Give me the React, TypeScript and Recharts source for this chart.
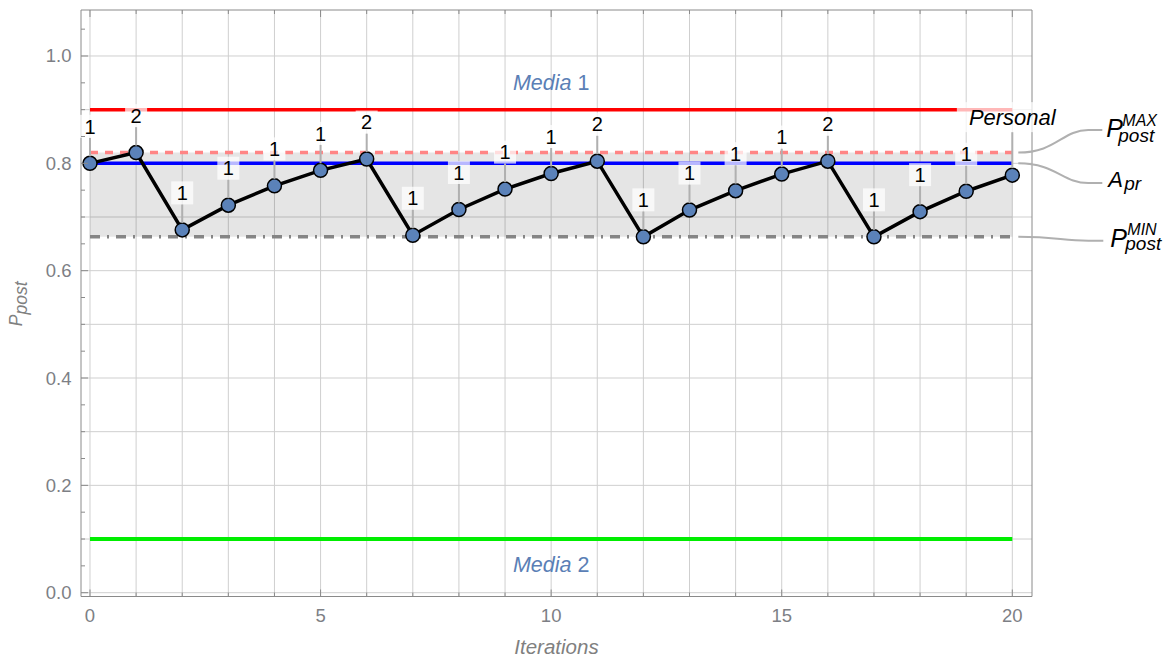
import React from 'react';
import {
  ComposedChart,
  Line,
  XAxis,
  YAxis,
  CartesianGrid,
  ReferenceLine,
  ReferenceArea,
  ReferenceDot,
} from 'recharts';

// ---------- data ----------
const iterations = [0, 1, 2, 3, 4, 5, 6, 7, 8, 9, 10, 11, 12, 13, 14, 15, 16, 17, 18, 19, 20];
const pPost = [
  0.8, 0.82, 0.676, 0.722, 0.758, 0.787, 0.808, 0.666, 0.714, 0.752, 0.781,
  0.804, 0.663, 0.713, 0.749, 0.78, 0.804, 0.663, 0.71, 0.748, 0.778,
];
const calloutLabels = [
  '1', '2', '1', '1', '1', '1', '2', '1', '1', '1', '1',
  '2', '1', '1', '1', '1', '2', '1', '1', '1', 'Personal',
];
const media1Value = 0.9;
const media2Value = 0.1;
const aPrValue = 0.8;
const pPostMaxValue = 0.82;
const pPostMinValue = 0.663;
const lineStart = 0;
const lineEnd = 20;

const xTicks = [0, 1, 2, 3, 4, 5, 6, 7, 8, 9, 10, 11, 12, 13, 14, 15, 16, 17, 18, 19, 20];
const xLabelTicks = [0, 5, 10, 15, 20];
const yTicks = [
  0, 0.05, 0.1, 0.15, 0.2, 0.25, 0.3, 0.35, 0.4, 0.45, 0.5,
  0.55, 0.6, 0.65, 0.7, 0.75, 0.8, 0.85, 0.9, 0.95, 1.0, 1.05,
];
const yLabelTicks = [0, 0.2, 0.4, 0.6, 0.8, 1.0];
const xGrid = [0, 1, 2, 3, 4, 5, 6, 7, 8, 9, 10, 11, 12, 13, 14, 15, 16, 17, 18, 19, 20];
const yGrid = [0, 0.1, 0.2, 0.3, 0.4, 0.5, 0.6, 0.7, 0.8, 0.9, 1.0];
const xDomain = [-0.195, 20.427];
const yDomain = [-0.0071, 1.0857];

const data = iterations.map((x, i) => ({ x, p: pPost[i], label: calloutLabels[i] }));

// ---------- styles ----------
const FONT = '"Liberation Sans", Arial, sans-serif';
const FRAME = '#8a8a8a';
const TICK_TEXT = '#7d7f85';
const MEDIA_TEXT = '#5b7fb6';
const LEADER = '#b0b0b0';

const BottomTick = (props: any) => {
  const { x, y, payload } = props;
  const v = payload.value;
  const major = xLabelTicks.includes(v);
  return (
    <g>
      <line x1={x} x2={x} y1={y} y2={y - (major ? 7 : 4)} stroke={FRAME} strokeWidth={1} />
      {major && (
        <text x={x} y={y + 25.5} textAnchor="middle" fill={TICK_TEXT} fontSize={18.5} fontFamily={FONT}>
          {v}
        </text>
      )}
    </g>
  );
};

const TopTick = (props: any) => {
  const { x, y, payload } = props;
  const major = xLabelTicks.includes(payload.value);
  return <line x1={x} x2={x} y1={y} y2={y + (major ? 7 : 4)} stroke={FRAME} strokeWidth={1} />;
};

const LeftTick = (props: any) => {
  const { x, y, payload } = props;
  const v = payload.value;
  const major = yLabelTicks.includes(v);
  return (
    <g>
      <line x1={x} x2={x + (major ? 7 : 4)} y1={y} y2={y} stroke={FRAME} strokeWidth={1} />
      {major && (
        <text x={x - 9.5} y={y + 6.5} textAnchor="end" fill={TICK_TEXT} fontSize={18.5} fontFamily={FONT}>
          {Number(v).toFixed(1)}
        </text>
      )}
    </g>
  );
};

const RightTick = (props: any) => {
  const { x, y, payload } = props;
  const major = yLabelTicks.includes(payload.value);
  return <line x1={x} x2={x - (major ? 7 : 4)} y1={y} y2={y} stroke={FRAME} strokeWidth={1} />;
};

const renderDot = (props: any) => {
  const { cx, cy, index } = props;
  return (
    <circle key={`d${index}`} cx={cx} cy={cy} r={7} fill="#5b82b9" stroke="#000" strokeWidth={1.5} />
  );
};

const renderCallout = (props: any) => {
  const { cx, cy, index, payload } = props;
  const text: string = payload.label;
  const long = text.length > 2;
  const fs = long ? 22 : 20;
  const w = long ? text.length * fs * 0.505 + 22 : 22;
  const h = long ? 30 : 23;
  const off = long ? 58 : 37;
  const centerY = cy - off;
  const boxTop = centerY - h / 2;
  return (
    <g key={`c${index}`}>
      <line x1={cx} x2={cx} y1={boxTop + h} y2={cy - 7} stroke={LEADER} strokeWidth={2} />
      <rect x={cx - w / 2} y={boxTop} width={w} height={h} fill="#ffffff" fillOpacity={0.72} />
      <text
        x={cx}
        y={centerY + fs * 0.36}
        textAnchor="middle"
        fontSize={fs}
        fontFamily={FONT}
        fontStyle={long ? 'italic' : 'normal'}
        fill="#000"
      >
        {text}
      </text>
    </g>
  );
};

const MediaText = (props: any) => {
  const { cx, cy, name, num, dy } = props;
  return (
    <text x={cx} y={cy + dy} textAnchor="middle" fontSize={21.5} fontFamily={FONT} fill={MEDIA_TEXT}>
      <tspan fontStyle="italic">{name}</tspan>
      <tspan> {num}</tspan>
    </text>
  );
};

const SideLabel = (props: any) => {
  const { cx, cy, dy, endX, main, mainSize, mainDx, mainDy, sup, supDx, supDy, sub, subDx, subDy } = props;
  const ty = cy + dy;
  const x0 = cx + 6;
  const path = `M${x0},${cy} C${x0 + 38},${cy} ${x0 + 44},${ty} ${x0 + 70},${ty} L${cx + endX},${ty}`;
  const px = cx + mainDx;
  const by = ty + mainDy;
  return (
    <g>
      <path d={path} fill="none" stroke={LEADER} strokeWidth={2} />
      <text x={px} y={by} fontStyle="italic" fontFamily={FONT} fill="#000">
        <tspan fontSize={mainSize}>{main}</tspan>
        {sup && (
          <tspan x={px + supDx} y={ty + supDy} fontSize={16}>
            {sup}
          </tspan>
        )}
        <tspan x={px + subDx} y={ty + subDy} fontSize={19}>
          {sub}
        </tspan>
      </text>
    </g>
  );
};

const YLabel = (props: any) => {
  const { viewBox } = props;
  const x = viewBox.x + viewBox.width - 59;
  const y = viewBox.y + viewBox.height / 2 + 23;
  return (
    <text transform={`translate(${x},${y}) rotate(-90)`} fontFamily={FONT} fontStyle="italic" fill="#808080" fontSize={17.5}>
      <tspan>P</tspan>
      <tspan dy={5}>post</tspan>
    </text>
  );
};

const XLabel = (props: any) => {
  const { viewBox } = props;
  return (
    <text
      x={viewBox.x + viewBox.width / 2}
      y={viewBox.y + 57.5}
      textAnchor="middle"
      fontFamily={FONT}
      fontStyle="italic"
      fill="#808080"
      fontSize={20.5}
    >
      Iterations
    </text>
  );
};

export default function App() {
  return (
    <div style={{ position: 'absolute', left: 0, top: 0, width: 1170, height: 664, background: '#fff' }}>
      <ComposedChart
        width={1170}
        height={664}
        data={data}
        margin={{ top: 9, right: 137, bottom: 7.5, left: 21 }}
      >
        <CartesianGrid horizontalValues={yGrid} verticalValues={xGrid} stroke="#cfcfcf" strokeWidth={1} />
        <XAxis
          dataKey="x"
          type="number"
          domain={xDomain}
          ticks={xTicks}
          interval={0}
          height={60}
          tickSize={0}
          tickMargin={0}
          tickLine={false}
          axisLine={{ stroke: FRAME, strokeWidth: 1 }}
          tick={BottomTick}
          label={<XLabel />}
        />
        <XAxis
          xAxisId="top"
          orientation="top"
          dataKey="x"
          type="number"
          domain={xDomain}
          ticks={xTicks}
          interval={0}
          height={1}
          tickSize={0}
          tickMargin={0}
          tickLine={false}
          axisLine={{ stroke: FRAME, strokeWidth: 1 }}
          tick={TopTick}
        />
        <YAxis
          type="number"
          domain={yDomain}
          ticks={yTicks}
          interval={0}
          width={60}
          tickSize={0}
          tickMargin={0}
          tickLine={false}
          axisLine={{ stroke: FRAME, strokeWidth: 1 }}
          tick={LeftTick}
          label={<YLabel />}
        />
        <YAxis
          yAxisId="right"
          orientation="right"
          type="number"
          domain={yDomain}
          ticks={yTicks}
          interval={0}
          width={1}
          tickSize={0}
          tickMargin={0}
          tickLine={false}
          axisLine={{ stroke: FRAME, strokeWidth: 1 }}
          tick={RightTick}
        />
        <ReferenceArea
          x1={lineStart}
          x2={lineEnd}
          y1={pPostMinValue}
          y2={pPostMaxValue}
          fill="#000"
          fillOpacity={0.1}
          stroke="none"
        />
        <ReferenceLine
          segment={[{ x: lineStart, y: media1Value }, { x: lineEnd, y: media1Value }]}
          stroke="#ff0000"
          strokeWidth={3.5}
        />
        <ReferenceLine
          segment={[{ x: lineStart, y: media2Value }, { x: lineEnd, y: media2Value }]}
          stroke="#00ee00"
          strokeWidth={4}
        />
        <ReferenceLine
          segment={[{ x: lineStart, y: pPostMaxValue }, { x: lineEnd, y: pPostMaxValue }]}
          stroke="#ff8585"
          strokeWidth={3.5}
          strokeDasharray="8 7"
        />
        <ReferenceLine
          segment={[{ x: lineStart, y: aPrValue }, { x: lineEnd, y: aPrValue }]}
          stroke="#0000ff"
          strokeWidth={3.5}
        />
        <ReferenceLine
          segment={[{ x: lineStart, y: pPostMinValue }, { x: lineEnd, y: pPostMinValue }]}
          stroke="#858585"
          strokeWidth={3.5}
          strokeDasharray="10 7 2 7"
        />
        <Line
          dataKey="p"
          stroke="#000"
          strokeWidth={3.5}
          dot={renderDot}
          activeDot={false}
          isAnimationActive={false}
        />
        <Line
          dataKey="p"
          stroke="none"
          dot={renderCallout}
          activeDot={false}
          isAnimationActive={false}
        />
        <ReferenceDot
          x={10}
          y={media1Value}
          shape={(p: any) => <MediaText {...p} name="Media" num="1" dy={-20} />}
        />
        <ReferenceDot
          x={10}
          y={media2Value}
          shape={(p: any) => <MediaText {...p} name="Media" num="2" dy={33} />}
        />
        <ReferenceDot
          x={lineEnd}
          y={pPostMaxValue}
          shape={(p: any) => (
            <SideLabel
              {...p}
              dy={-22.6}
              endX={90}
              main="P"
              mainSize={25}
              mainDx={94}
              mainDy={7}
              sup="MAX"
              supDx={16}
              supDy={-4}
              sub="post"
              subDx={12}
              subDy={12}
            />
          )}
        />
        <ReferenceDot
          x={lineEnd}
          y={aPrValue}
          shape={(p: any) => (
            <SideLabel
              {...p}
              dy={19.7}
              endX={90}
              main="A"
              mainSize={22}
              mainDx={96}
              mainDy={4}
              sub="pr"
              subDx={16}
              subDy={7}
            />
          )}
        />
        <ReferenceDot
          x={lineEnd}
          y={pPostMinValue}
          shape={(p: any) => (
            <SideLabel
              {...p}
              dy={3.8}
              endX={91}
              main="P"
              mainSize={25}
              mainDx={98}
              mainDy={6.3}
              sup="MIN"
              supDx={17}
              supDy={-5.7}
              sub="post"
              subDx={15}
              subDy={9.3}
            />
          )}
        />
      </ComposedChart>
    </div>
  );
}
